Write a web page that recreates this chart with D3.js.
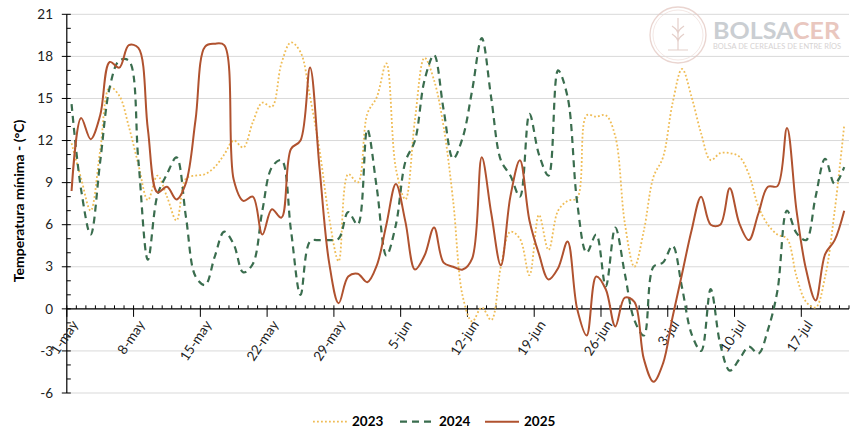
<!DOCTYPE html>
<html>
<head>
<meta charset="utf-8">
<script src="https://cdn.jsdelivr.net/npm/d3@7"></script>
<style>
  body { margin: 0; background: #fff; }
  text { font-family: Lato, "Open Sans", sans-serif; }
</style>
</head>
<body>
<div id="chart"></div>
<script>
// daily minimum temperature, 1-may .. 21-jul (82 days)
var startDate = Date.UTC(2025, 4, 1);
var years = ["2023", "2024", "2025"];

var serie2023 = [11.8, 9.3, 7.0, 11.3, 15.8, 15.2, 13.0, 10.3, 7.75, 9.5,
  8.0, 6.3, 9.3, 9.5, 9.6, 10.1, 11.0, 12.0, 11.5, 13.3,
  14.7, 14.4, 17.5, 19.0, 18.3, 15.1, 11.3, 6.5, 3.4, 9.6,
  9.0, 13.9, 15.1, 17.5, 10.0, 7.8, 13.5, 17.9, 16.3, 13.0,
  7.7, 0.9, -0.9, 0.1, -0.8, 3.0, 5.5, 5.0, 2.4, 6.7,
  4.2, 7.0, 7.7, 7.9, 13.8, 13.7, 13.8, 12.3, 6.1, 3.0,
  5.6, 9.4, 10.8, 14.65, 17.1, 15.1, 12.5, 10.6, 11.1, 11.1,
  10.85, 9.6, 7.3, 6.0, 5.3, 5.0, 2.3, 0.5, 0.1, 2.3,
  7.0, 13.1];

var serie2024 = [14.6, 8.5, 5.3, 10.5, 15.8, 17.7, 17.7, 10.6, 3.5, 8.1,
  9.6, 10.8, 6.5, 2.3, 1.7, 3.7, 5.5, 4.6, 2.6, 3.2,
  7.0, 10.1, 10.6, 5.6, 1.0, 4.8, 4.9, 4.9, 5.0, 6.9,
  6.0, 12.8, 8.6, 3.8, 6.0, 10.5, 12.0, 16.3, 18.1, 14.2,
  10.7, 12.2, 15.6, 19.3, 15.0, 10.6, 9.5, 8.0, 13.9, 11.0,
  9.5, 17.0, 15.1, 7.6, 4.0, 5.3, 1.6, 5.8, 2.5, -0.8,
  -1.9, 3.0, 3.3, 4.5, 1.5, -1.8, -3.0, 1.4, -2.5, -4.4,
  -3.6, -2.7, -3.2, -1.5, 1.3, 7.0, 5.4, 4.9, 8.0, 10.7,
  8.9, 10.1];

var serie2025 = [8.4, 13.6, 12.1, 13.8, 17.6, 17.2, 18.8, 18.6, 12.8, 8.3,
  8.7, 7.8, 9.0, 13.5, 18.7, 18.9, 18.8, 9.2, 7.7, 8.0,
  5.3, 7.1, 6.5, 11.4, 12.0, 17.2, 10.0, 3.3, 0.4, 2.3,
  2.5, 1.9, 3.1, 6.0, 8.9, 6.2, 2.8, 3.8, 5.8, 3.3,
  3.0, 2.8, 3.6, 10.8, 6.8, 3.1, 8.0, 10.6, 6.3, 3.9,
  2.1, 2.9, 4.8, 0.0, -1.9, 2.3, 1.4, -1.25, 0.8, 0.5,
  -3.6, -5.2, -3.9, -0.6, 2.5, 5.6, 8.0, 6.0, 6.0, 8.6,
  6.1, 4.9, 6.8, 8.7, 8.75, 12.9, 7.0, 2.8, 0.6, 3.9,
  4.9, 7.0];

var tickLabels = ["1-may", "8-may", "15-may", "22-may", "29-may", "5-jun",
  "12-jun", "19-jun", "26-jun", "3-jul", "10-jul", "17-jul"];
var yTicks = [-6, -3, 0, 3, 6, 9, 12, 15, 18, 21];

var width = 863, height = 437;
var plotLeft = 66.8, plotRight = 849, plotTop = 14.3, plotBottom = 393;

var svg = d3.select("#chart")
  .append("svg")
  .attr("width", width)
  .attr("height", height);

var dayMs = 864e5;
var x = d3.scaleUtc()
  .domain([new Date(startDate), new Date(startDate + serie2025.length * dayMs)])
  .range([plotLeft, plotRight]);
var y = d3.scaleLinear().domain([-6, 21]).range([plotBottom, plotTop]);

// grid lines
svg.append("g")
  .selectAll("line")
  .data(yTicks)
  .enter().append("line")
  .attr("x1", plotLeft).attr("x2", plotRight)
  .attr("y1", d => y(d)).attr("y2", d => y(d))
  .attr("stroke", "#d9d9d9")
  .attr("stroke-width", 1);

// y axis
var yMinor = d3.range(-6, 22, 1);
svg.append("line")
  .attr("x1", plotLeft).attr("x2", plotLeft)
  .attr("y1", y(21)).attr("y2", y(-6))
  .attr("stroke", "#000").attr("stroke-width", 1.2);
svg.append("g").selectAll("line")
  .data(yMinor)
  .enter().append("line")
  .attr("x1", d => d % 3 === 0 ? plotLeft - 5 : plotLeft)
  .attr("x2", plotLeft + 4)
  .attr("y1", d => y(d)).attr("y2", d => y(d))
  .attr("stroke", "#000").attr("stroke-width", 1);
svg.append("g").selectAll("text")
  .data(yTicks)
  .enter().append("text")
  .attr("x", 53)
  .attr("y", d => y(d))
  .attr("dy", "0.35em")
  .attr("text-anchor", "end")
  .attr("font-size", 13.5)
  .attr("fill", "#222")
  .text(d => d);

// x axis at 0
var y0 = y(0);
var days = d3.range(0, serie2025.length + 1);
svg.append("line")
  .attr("x1", plotLeft).attr("x2", plotRight)
  .attr("y1", y0).attr("y2", y0)
  .attr("stroke", "#000").attr("stroke-width", 1.2);
svg.append("g").selectAll("line")
  .data(days)
  .enter().append("line")
  .attr("x1", d => x(new Date(startDate + d * dayMs)))
  .attr("x2", d => x(new Date(startDate + d * dayMs)))
  .attr("y1", y0 - 3.5)
  .attr("y2", d => d % 7 === 0 ? y0 + 8 : y0)
  .attr("stroke", "#000").attr("stroke-width", 1);
svg.append("g").selectAll("text")
  .data(tickLabels)
  .enter().append("text")
  .attr("transform", (d, i) => {
    var px = x(new Date(startDate + i * 7 * dayMs));
    return "translate(" + (px + 8) + "," + (y0 + 13) + ") rotate(-56)";
  })
  .attr("dy", "0.35em")
  .attr("text-anchor", "end")
  .attr("font-size", 13.5)
  .attr("fill", "#222")
  .text(d => d);

// y title
svg.append("text")
  .attr("transform", "translate(19," + y(7.7) + ") rotate(-90)")
  .attr("dy", "0.35em")
  .attr("text-anchor", "middle")
  .attr("font-size", 14)
  .attr("font-weight", "bold")
  .attr("fill", "#000")
  .text("Temperatura mínima - (°C)");

// watermark logo
var logo = svg.append("g").attr("opacity", 0.75);
logo.append("circle").attr("cx", 678).attr("cy", 35).attr("r", 28)
  .attr("fill", "none").attr("stroke", "#e3c7c1").attr("stroke-width", 1.3);
logo.append("circle").attr("cx", 678).attr("cy", 35).attr("r", 25)
  .attr("fill", "none").attr("stroke", "#ecd8d3").attr("stroke-width", 0.8);
logo.append("path")
  .attr("d", "M678,18 L678,50 M672,26 Q678,30 678,34 M684,26 Q678,30 678,34 M672,34 Q678,38 678,42 M684,34 Q678,38 678,42 M668,50 L688,50")
  .attr("fill", "none").attr("stroke", "#dcc0b9").attr("stroke-width", 1.2);
var brand = logo.append("text")
  .attr("x", 713).attr("y", 38.5)
  .attr("font-size", 23).attr("font-weight", "bold")
  .attr("textLength", 127).attr("lengthAdjust", "spacingAndGlyphs");
brand.append("tspan").attr("fill", "#b9bec4").text("BOLSA");
brand.append("tspan").attr("fill", "#e2b5aa").text("CER");
logo.append("text")
  .attr("x", 713).attr("y", 49)
  .attr("font-size", 7)
  .attr("textLength", 128).attr("lengthAdjust", "spacingAndGlyphs")
  .attr("fill", "#c9c4c4")
  .text("BOLSA DE CEREALES DE ENTRE RÍOS");

// series
var styles = {
  "2023": { color: "#efbc55", width: 1.8, dash: "1.8,2.2", data: serie2023 },
  "2024": { color: "#3a6d4e", width: 2.2, dash: "7,5", data: serie2024 },
  "2025": { color: "#b0522f", width: 2, dash: null, data: serie2025 }
};

var line = d3.line()
  .x((d, i) => x(new Date(startDate + (i + 0.5) * dayMs)))
  .y(d => y(d))
  .curve(d3.curveCatmullRom.alpha(0.5));

years.forEach(function(yr) {
  var s = styles[yr];
  svg.append("path")
    .datum(s.data)
    .attr("fill", "none")
    .attr("stroke", s.color)
    .attr("stroke-width", s.width)
    .attr("stroke-dasharray", s.dash)
    .attr("d", line);
});

// legend
var legendX = { "2023": 313, "2024": 400, "2025": 485 };
var legend = svg.append("g");
years.forEach(function(yr) {
  var s = styles[yr];
  legend.append("line")
    .attr("x1", legendX[yr]).attr("x2", legendX[yr] + 34)
    .attr("y1", 421.7).attr("y2", 421.7)
    .attr("stroke", s.color)
    .attr("stroke-width", s.width)
    .attr("stroke-dasharray", s.dash);
  legend.append("text")
    .attr("x", legendX[yr] + 39)
    .attr("y", 421.7)
    .attr("dy", "0.35em")
    .attr("font-size", 13.5)
    .attr("font-weight", "bold")
    .attr("fill", "#000")
    .text(yr);
});
</script>
</body>
</html>
